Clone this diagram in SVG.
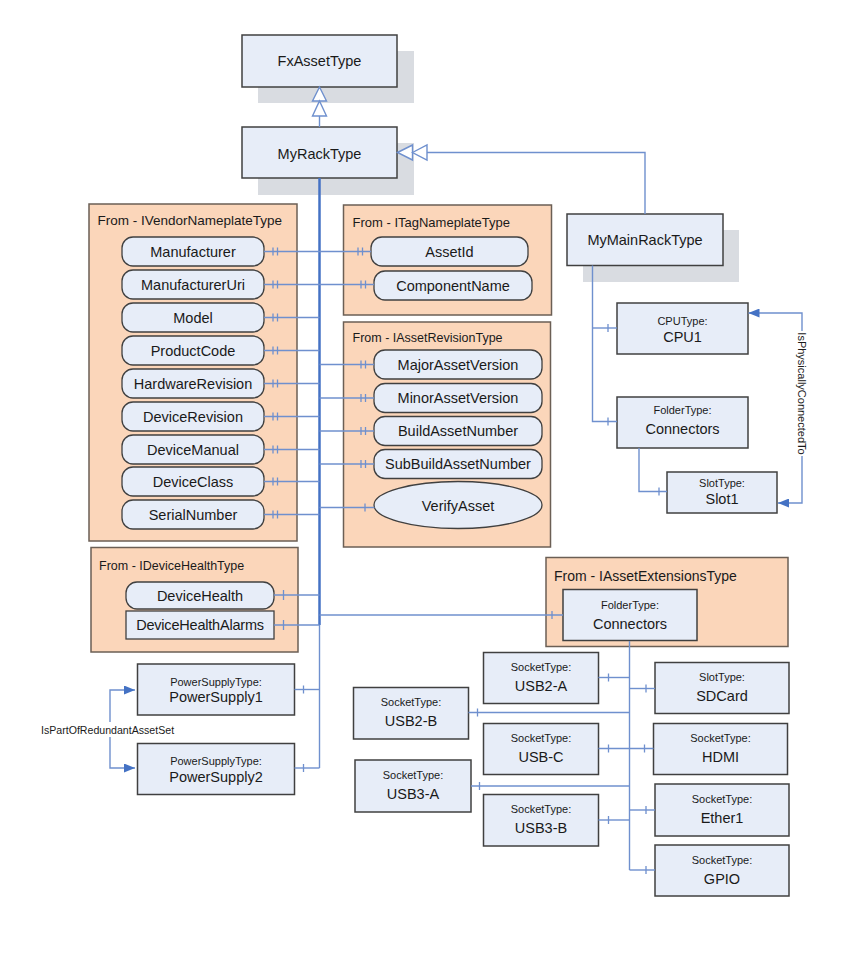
<svg xmlns="http://www.w3.org/2000/svg" width="852" height="960" viewBox="0 0 852 960">
<style>
.box{fill:#E7EDF8;stroke:#404040;stroke-width:1.5}
.shadow{fill:#D9DCE1}
.grp{fill:#FBD6BA;stroke:#6B5F55;stroke-width:1.5}
.pill{fill:#E7EDF8;stroke:#404040;stroke-width:1.3}
.ln{fill:none;stroke:#6F90CE;stroke-width:1.4}
.thick{fill:none;stroke:#4472C4;stroke-width:2.5}
.tick{stroke:#6F90CE;stroke-width:1.3}
text{font-family:"Liberation Sans",Arial,sans-serif;fill:#1a1a1a}
.nm{font-size:14.5px;text-anchor:middle}
.ty{font-size:11px;text-anchor:middle}
.gt{font-size:13px}
.lbl{font-size:11px}
.tri{fill:#fff;stroke:#6F90CE;stroke-width:1.4}
</style>
<defs>
<marker id="arr" viewBox="0 0 10 10" refX="10" refY="5" markerWidth="11" markerHeight="9" markerUnits="userSpaceOnUse" orient="auto-start-reverse" preserveAspectRatio="none">
<path d="M0,0 L10,5 L0,10 z" fill="#4472C4"/>
</marker>
</defs>

<g id="FxAssetType">
<rect class="shadow" x="258" y="51" width="156" height="52"/>
<rect class="box" x="242" y="35" width="155" height="52"/>
<text class="nm" x="319.5" y="66">FxAssetType</text>
</g>
<g id="MyRackType">
<rect class="shadow" x="258" y="143" width="156" height="52"/>
<rect class="box" x="242" y="127" width="155" height="51"/>
<text class="nm" x="319.5" y="158.5">MyRackType</text>
</g>
<g id="MyMainRackType">
<rect class="shadow" x="583" y="230" width="156" height="52"/>
<rect class="box" x="567" y="214" width="156" height="51.5"/>
<text class="nm" x="645" y="245">MyMainRackType</text>
</g>

<g id="IVendorNameplateType">
<rect class="grp" x="89" y="204" width="208" height="337"/>
<text class="gt" x="97.5" y="225" style="font-size:13.5px">From - IVendorNameplateType</text>
<rect class="pill" x="122" y="237" width="142" height="29" rx="11"/><text class="nm" x="193" y="256.5">Manufacturer</text>
<rect class="pill" x="122" y="270" width="142" height="29" rx="11"/><text class="nm" x="193" y="289.5">ManufacturerUri</text>
<rect class="pill" x="122" y="303" width="142" height="29" rx="11"/><text class="nm" x="193" y="322.5">Model</text>
<rect class="pill" x="122" y="336" width="142" height="29" rx="11"/><text class="nm" x="193" y="355.5">ProductCode</text>
<rect class="pill" x="122" y="369" width="142" height="29" rx="11"/><text class="nm" x="193" y="388.5">HardwareRevision</text>
<rect class="pill" x="122" y="402" width="142" height="29" rx="11"/><text class="nm" x="193" y="421.5">DeviceRevision</text>
<rect class="pill" x="122" y="435" width="142" height="29" rx="11"/><text class="nm" x="193" y="454.5">DeviceManual</text>
<rect class="pill" x="122" y="467" width="142" height="29" rx="11"/><text class="nm" x="193" y="486.5">DeviceClass</text>
<rect class="pill" x="122" y="500" width="142" height="29" rx="11"/><text class="nm" x="193" y="519.5">SerialNumber</text>
</g>

<g id="ITagNameplateType">
<rect class="grp" x="343.5" y="205" width="208" height="110"/>
<text class="gt" x="352.5" y="227">From - ITagNameplateType</text>
<rect class="pill" x="371" y="237" width="157" height="29" rx="11"/><text class="nm" x="449.5" y="256.5">AssetId</text>
<rect class="pill" x="374" y="271" width="158" height="29" rx="11"/><text class="nm" x="453" y="290.5">ComponentName</text>
</g>

<g id="IAssetRevisionType">
<rect class="grp" x="343.5" y="322" width="207" height="225"/>
<text class="gt" x="352.5" y="342" style="font-size:12.5px">From - IAssetRevisionType</text>
<rect class="pill" x="374" y="350" width="168" height="29" rx="11"/><text class="nm" x="458" y="369.5">MajorAssetVersion</text>
<rect class="pill" x="374" y="383.5" width="168" height="29" rx="11"/><text class="nm" x="458" y="403">MinorAssetVersion</text>
<rect class="pill" x="374" y="416.5" width="168" height="29" rx="11"/><text class="nm" x="458" y="436">BuildAssetNumber</text>
<rect class="pill" x="374" y="449.5" width="168" height="29" rx="11"/><text class="nm" x="458" y="469">SubBuildAssetNumber</text>
<ellipse class="pill" cx="458" cy="505" rx="84" ry="23.5"/><text class="nm" x="458" y="510.5">VerifyAsset</text>
</g>

<g id="IDeviceHealthType">
<rect class="grp" x="91" y="547.5" width="207" height="104.5"/>
<text class="gt" x="99" y="569.5" style="font-size:12.5px">From - IDeviceHealthType</text>
<rect class="pill" x="126" y="582" width="148" height="27" rx="11"/><text class="nm" x="200" y="600.5">DeviceHealth</text>
<rect class="pill" x="126" y="611" width="148" height="28"/><text class="nm" x="200" y="630" style="letter-spacing:-0.2px">DeviceHealthAlarms</text>
</g>

<g id="PowerSupply1">
<rect class="box" x="137.5" y="664" width="157" height="51"/>
<text class="ty" x="216" y="685.5">PowerSupplyType:</text>
<text class="nm" x="216" y="702">PowerSupply1</text>
</g>
<g id="PowerSupply2">
<rect class="box" x="137.5" y="743.5" width="157" height="51"/>
<text class="ty" x="216" y="765">PowerSupplyType:</text>
<text class="nm" x="216" y="781.5">PowerSupply2</text>
</g>

<g id="CPU1">
<rect class="box" x="617" y="303" width="131" height="51"/>
<text class="ty" x="682.5" y="324.5">CPUType:</text>
<text class="nm" x="682.5" y="342">CPU1</text>
</g>
<g id="Connectors1">
<rect class="box" x="617" y="397" width="131" height="51"/>
<text class="ty" x="682.5" y="414">FolderType:</text>
<text class="nm" x="682.5" y="433.5">Connectors</text>
</g>
<g id="Slot1">
<rect class="box" x="667" y="472" width="110" height="41"/>
<text class="ty" x="722" y="486.5">SlotType:</text>
<text class="nm" x="722" y="503.5">Slot1</text>
</g>

<g id="IAssetExtensionsType">
<rect class="grp" x="546" y="557.5" width="242" height="89"/>
<text class="gt" x="554" y="581" style="font-size:14px">From - IAssetExtensionsType</text>
</g>
<g id="Connectors2">
<rect class="box" x="563" y="589.5" width="134" height="51"/>
<text class="ty" x="630" y="609">FolderType:</text>
<text class="nm" x="630" y="628.5">Connectors</text>
</g>

<g id="USB2-A"><rect class="box" x="483.5" y="652.5" width="115" height="51"/><text class="ty" x="541" y="671">SocketType:</text><text class="nm" x="541" y="690.5">USB2-A</text></g>
<g id="SDCard"><rect class="box" x="655" y="662.5" width="134" height="51"/><text class="ty" x="722" y="681">SlotType:</text><text class="nm" x="722" y="700.5">SDCard</text></g>
<g id="USB2-B"><rect class="box" x="353.5" y="687.5" width="115" height="51.5"/><text class="ty" x="411" y="706">SocketType:</text><text class="nm" x="411" y="725.5">USB2-B</text></g>
<g id="USB-C"><rect class="box" x="483.5" y="723.5" width="115" height="51"/><text class="ty" x="541" y="742">SocketType:</text><text class="nm" x="541" y="761.5">USB-C</text></g>
<g id="HDMI"><rect class="box" x="653.5" y="723.5" width="134" height="51"/><text class="ty" x="720.5" y="742">SocketType:</text><text class="nm" x="720.5" y="761.5">HDMI</text></g>
<g id="USB3-A"><rect class="box" x="355" y="760" width="116" height="52"/><text class="ty" x="413" y="779">SocketType:</text><text class="nm" x="413" y="798.5">USB3-A</text></g>
<g id="USB3-B"><rect class="box" x="483.5" y="794.5" width="115" height="51.5"/><text class="ty" x="541" y="813">SocketType:</text><text class="nm" x="541" y="832.5">USB3-B</text></g>
<g id="Ether1"><rect class="box" x="655" y="784" width="134" height="52"/><text class="ty" x="722" y="803">SocketType:</text><text class="nm" x="722" y="822.5">Ether1</text></g>
<g id="GPIO"><rect class="box" x="655" y="845" width="134" height="51"/><text class="ty" x="722" y="864">SocketType:</text><text class="nm" x="722" y="883.5">GPIO</text></g>

<g id="connectors">
<line class="ln" x1="319.5" y1="116" x2="319.5" y2="127"/>
<path class="ln" d="M427,152.5 H645 V214"/>
<line class="thick" x1="319.5" y1="178" x2="319.5" y2="625"/>
<line class="ln" x1="319.5" y1="625" x2="319.5" y2="768"/>
<line class="ln" x1="264" y1="251.5" x2="371" y2="251.5"/>
<line class="ln" x1="264" y1="284.5" x2="374" y2="284.5"/>
<line class="ln" x1="264" y1="317.5" x2="319.5" y2="317.5"/>
<line class="ln" x1="264" y1="350.5" x2="319.5" y2="350.5"/>
<line class="ln" x1="264" y1="383.5" x2="319.5" y2="383.5"/>
<line class="ln" x1="264" y1="416.5" x2="319.5" y2="416.5"/>
<line class="ln" x1="264" y1="449.5" x2="319.5" y2="449.5"/>
<line class="ln" x1="264" y1="481.5" x2="319.5" y2="481.5"/>
<line class="ln" x1="264" y1="514.5" x2="319.5" y2="514.5"/>
<line class="ln" x1="319.5" y1="364.5" x2="374" y2="364.5"/>
<line class="ln" x1="319.5" y1="398" x2="374" y2="398"/>
<line class="ln" x1="319.5" y1="431" x2="374" y2="431"/>
<line class="ln" x1="319.5" y1="464" x2="374" y2="464"/>
<line class="ln" x1="319.5" y1="507.5" x2="374.5" y2="507.5"/>
<line class="ln" x1="274" y1="595" x2="319.5" y2="595"/>
<line class="ln" x1="274" y1="625" x2="319.5" y2="625"/>
<line class="ln" x1="319.5" y1="615" x2="563" y2="615"/>
<line class="ln" x1="294.5" y1="689.5" x2="319.5" y2="689.5"/>
<line class="ln" x1="294.5" y1="768" x2="319.5" y2="768"/>
<path class="ln" d="M135,690 H110 V768 H135" marker-start="url(#arr)" marker-end="url(#arr)"/>
<path class="ln" d="M592.5,265.5 V421.5 H617"/>
<line class="ln" x1="592.5" y1="328" x2="617" y2="328"/>
<path class="ln" d="M639,448 V491.5 H667"/>
<path class="ln" d="M748.5,313 H802 V503 H778" marker-start="url(#arr)" marker-end="url(#arr)"/>
<line class="ln" x1="629.5" y1="641" x2="629.5" y2="870"/>
<line class="ln" x1="598.5" y1="677.5" x2="629.5" y2="677.5"/>
<line class="ln" x1="629.5" y1="688.5" x2="655" y2="688.5"/>
<line class="ln" x1="468.5" y1="712.5" x2="629.5" y2="712.5"/>
<line class="ln" x1="598.5" y1="748.5" x2="653.5" y2="748.5"/>
<line class="ln" x1="471" y1="786" x2="629.5" y2="786"/>
<line class="ln" x1="598.5" y1="820" x2="629.5" y2="820"/>
<line class="ln" x1="629.5" y1="810" x2="655" y2="810"/>
<line class="ln" x1="629.5" y1="870" x2="655" y2="870"/>
<g class="tick">
<path d="M273,247.5v8M277.5,247.5v8M273,280.5v8M277.5,280.5v8M273,313.5v8M277.5,313.5v8M273,346.5v8M277.5,346.5v8M273,379.5v8M277.5,379.5v8M273,412.5v8M277.5,412.5v8M273,445.5v8M277.5,445.5v8M273,477.5v8M277.5,477.5v8M273,510.5v8M277.5,510.5v8"/>
<path d="M358,247.5v8M362.5,247.5v8M361,280.5v8M365.5,280.5v8M361,360.5v8M365.5,360.5v8M361,394v8M365.5,394v8M361,427v8M365.5,427v8M361,460v8M365.5,460v8M365,503.5v8"/>
<path d="M283.5,590v10M283.5,620v10M552,611v8M303.5,685.5v8M303.5,764v8"/>
<path d="M608,324v8M608,417.5v8M659,487.5v8"/>
<path d="M608.5,673.5v8M646,684.5v8M477.5,708.5v8M608.5,744.5v8M644.5,744.5v8M479.5,782v8M608.5,816v8M646,806v8M646,866v8"/>
</g>
<rect x="795.5" y="331" width="13" height="125" fill="#fff"/>
<text class="lbl" transform="translate(798,393.5) rotate(90)" text-anchor="middle">IsPhysicallyConnectedTo</text>
<rect x="40" y="722" width="140" height="15" fill="#fff"/>
<text x="41" y="733.5" style="font-size:10.6px">IsPartOfRedundantAssetSet</text>
<path class="tri" d="M319.5,87 L326.5,101 L312.5,101 z"/>
<path class="tri" d="M319.5,101 L326.5,116 L312.5,116 z"/>
<path class="tri" d="M397.5,152.5 L412.5,145 L412.5,160 z"/>
<path class="tri" d="M412.5,152.5 L427,145 L427,160 z"/>
</g>
</svg>
